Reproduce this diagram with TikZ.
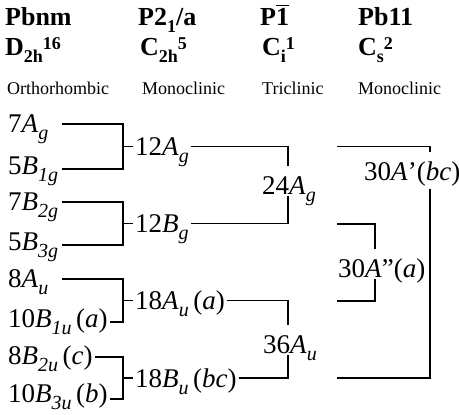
\documentclass[tikz,border=0pt]{standalone}
\usepackage{amsmath}
\usepackage{fontspec}
\setmainfont{Liberation Serif}
\newcommand\sbi[1]{\raisebox{-0.27em}{\fontsize{20}{21}\selectfont\itshape #1}}
\newcommand\hsub[1]{\raisebox{-0.24em}{\fontsize{18}{19}\selectfont #1}}
\newcommand\hsup[1]{\raisebox{0.24em}{\fontsize{18}{19}\selectfont #1}}
\begin{document}
\begin{tikzpicture}[x=1pt,y=-1pt,
  lbl/.style={anchor=base west,inner sep=2pt,font=\fontsize{27}{31}\selectfont},
  hdr/.style={anchor=base west,inner sep=2pt,font=\fontsize{26}{30}\selectfont\bfseries},
  sys/.style={anchor=base west,inner sep=2pt,font=\fontsize{18}{22}\selectfont},
  gap/.style={lbl,text height=26pt,text depth=0pt,inner ysep=2pt},
  ln/.style={line width=1.2pt}]
\useasboundingbox (0,0) rectangle (459,415);
% headers
\node[hdr] (h1) at (3,26) {Pbnm};
\node[hdr] (h2) at (136,26) {P2\hsub{1}/a};
\node[hdr] (h3) at (258,26) {P$\overline{\text{1}}$};
\node[hdr] (h4) at (356,26) {Pb11};
\node[hdr] (g1) at (3,56) {D\hsub{2h}\hsup{16}};
\node[hdr] (g2) at (138,56) {C\hsub{2h}\hsup{5}};
\node[hdr] (g3) at (260,56) {C\hsub{i}\hsup{1}};
\node[hdr] (g4) at (356,56) {C\hsub{s}\hsup{2}};
\node[sys] (s1) at (5,94) {Orthorhombic};
\node[sys] (s2) at (140,94) {Monoclinic};
\node[sys] (s3) at (260,94) {Triclinic};
\node[sys] (s4) at (356,94) {Monoclinic};
% left labels
\node[lbl] (a1) at (6,132) {7\textit{A}\sbi{g}};
\node[lbl] (a2) at (6,174) {5\textit{B}\sbi{1g}};
\node[lbl] (b1) at (6,210) {7\textit{B}\sbi{2g}};
\node[lbl] (b2) at (6,250) {5\textit{B}\sbi{3g}};
\node[lbl] (c1) at (6,287) {8\textit{A}\sbi{u}};
\node[lbl] (c2) at (6,327) {10\textit{B}\sbi{1u}\,(\textit{a})};
\node[lbl] (d1) at (6,364) {8\textit{B}\sbi{2u}\,(\textit{c})};
\node[lbl] (d2) at (6,402) {10\textit{B}\sbi{3u}\,(\textit{b})};
% middle labels
\node[lbl] (m1) at (133,155) {12\textit{A}\sbi{g}};
\node[lbl] (m2) at (133,232) {12\textit{B}\sbi{g}};
\node[lbl] (m3) at (133,309) {18\textit{A}\sbi{u}\,(\textit{a})};
\node[lbl] (m4) at (133,387) {18\textit{B}\sbi{u}\,(\textit{bc})};
% third column
\node[gap] (t24) at (260,194) {24\textit{A}\sbi{g}};
\node[gap] (t36) at (261,353) {36\textit{A}\sbi{u}};
\node[gap,text depth=7pt] (t30a) at (362,180) {30\textit{A}'(\textit{bc})};
\node[gap] (t30b) at (336,277) {30\textit{A}''(\textit{a})};
% coordinates
\coordinate (lx) at (62,0);
\coordinate (rx) at (337,0);
\coordinate (A1) at (123,124); \coordinate (A2) at (123,169); \coordinate (Am) at (123,146.5);
\coordinate (B1) at (123,202); \coordinate (B2) at (123,245); \coordinate (Bm) at (123,223.5);
\coordinate (C1) at (123,279); \coordinate (C2) at (123,322); \coordinate (Cm) at (123,300.5);
\coordinate (D1) at (123,357); \coordinate (D2) at (123,399); \coordinate (Dm) at (123,378);
\coordinate (T1) at (288,146.5); \coordinate (T2) at (288,223.5);
\coordinate (T3) at (288,300.5); \coordinate (T4) at (288,378);
\coordinate (R1) at (430,146.5); \coordinate (R2) at (430,378);
\coordinate (Q1) at (375,224); \coordinate (Q2) at (375,301);
% first-level brackets
\draw[ln] (lx |- A1) -- (A1) -- (A2) -- (lx |- A2);
\draw[ln] (Am) -- (m1.west |- Am);
\draw[ln] (lx |- B1) -- (B1) -- (B2) -- (lx |- B2);
\draw[ln] (Bm) -- (m2.west |- Bm);
\draw[ln] (lx |- C1) -- (C1) -- (C2) -- (c2.east |- C2);
\draw[ln] (Cm) -- (m3.west |- Cm);
\draw[ln] (d1.east |- D1) -- (D1) -- (D2) -- (d2.east |- D2);
\draw[ln] (Dm) -- (m4.west |- Dm);
% second-level brackets
\draw[ln] (m1.east |- T1) -- (T1) -- (T1 |- t24.north);
\draw[ln] (T2 |- t24.south) -- (T2) -- (m2.east |- T2);
\draw[ln] (m3.east |- T3) -- (T3) -- (T3 |- t36.north);
\draw[ln] (T4 |- t36.south) -- (T4) -- (m4.east |- T4);
% third-level brackets
\draw[ln] (rx |- R1) -- (R1) -- (R1 |- t30a.north);
\draw[ln] (R1 |- t30a.south) -- (R2) -- (rx |- R2);
\draw[ln] (rx |- Q1) -- (Q1) -- (Q1 |- t30b.north);
\draw[ln] (Q1 |- t30b.south) -- (Q2) -- (rx |- Q2);
\end{tikzpicture}
\end{document}
